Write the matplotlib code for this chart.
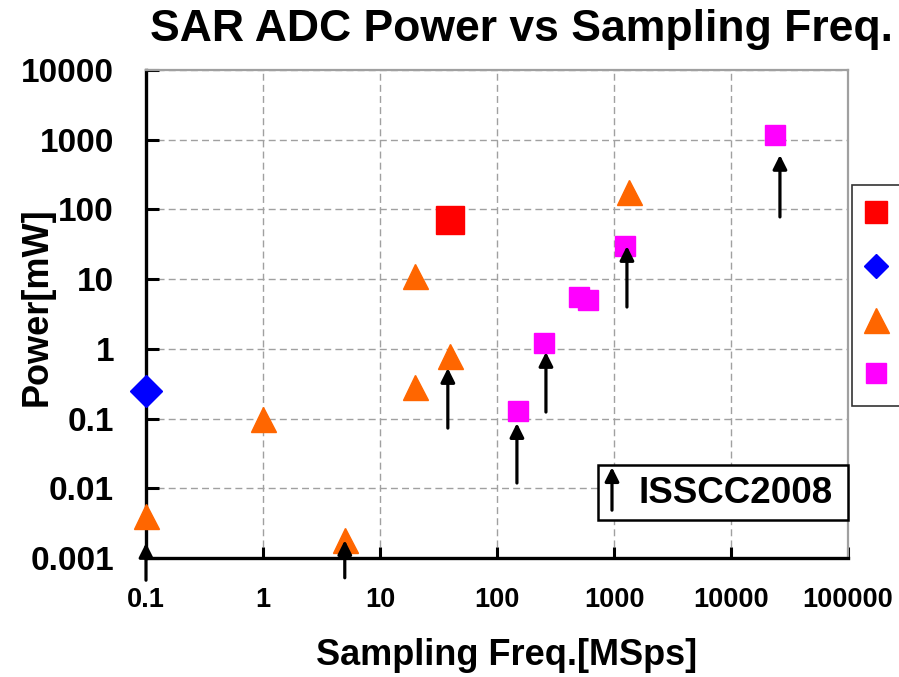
import matplotlib
matplotlib.use("Agg")
import matplotlib.pyplot as plt
from matplotlib.patches import Rectangle, FancyArrowPatch
from matplotlib.lines import Line2D
from matplotlib.ticker import FixedLocator, FixedFormatter, NullLocator

plt.rcParams['font.family'] = ['Liberation Sans', 'DejaVu Sans']
plt.rcParams['font.weight'] = 'bold'

# ---- data ----
red_x = [40]
red_y = [70]
blue_x = [0.1]
blue_y = [0.25]
orange_x = [0.1, 1, 5, 20, 20, 40, 1350]
orange_y = [0.004, 0.1, 0.0018, 11, 0.28, 0.8, 180]
magenta_x = [150, 250, 500, 600, 1250, 24000]
magenta_y = [0.13, 1.2, 5.5, 5.0, 30, 1150]

# ISSCC2008 arrows (x, tail y, tip y)
arrow_x = [0.1, 5, 38, 148, 262, 1290, 26200]
arrow_tail = [0.00048, 0.00052, 0.073, 0.0119, 0.124, 3.98, 78]
arrow_tip = [0.00164, 0.0018, 0.53, 0.086, 0.90, 29.8, 604]

xticks = [0.1, 1, 10, 100, 1000, 10000, 100000]
xtick_labels = ['0.1', '1', '10', '100', '1000', '10000', '100000']
yticks = [0.001, 0.01, 0.1, 1, 10, 100, 1000, 10000]
ytick_labels = ['0.001', '0.01', '0.1', '1', '10', '100', '1000', '10000']

title = 'SAR ADC Power vs Sampling Freq.'
xlabel = 'Sampling Freq.[MSps]'
ylabel = 'Power[mW]'
note = 'ISSCC2008'

RED, BLUE, ORANGE, MAGENTA = '#FF0000', '#0000FF', '#FF6600', '#FF00FF'

fig = plt.figure(figsize=(8.99, 6.77), dpi=100)
L, R, B, T = 146/899, 848/899, 1-558/677, 1-70/677
ax = fig.add_axes([L, B, R-L, T-B])
ax.set_xscale('log')
ax.set_yscale('log')
ax.set_xlim(0.1, 100000)
ax.set_ylim(0.001, 10000)

ax.xaxis.set_major_locator(FixedLocator(xticks))
ax.xaxis.set_major_formatter(FixedFormatter(xtick_labels))
ax.xaxis.set_minor_locator(NullLocator())
ax.yaxis.set_major_locator(FixedLocator(yticks))
ax.yaxis.set_major_formatter(FixedFormatter(ytick_labels))
ax.yaxis.set_minor_locator(NullLocator())

ax.grid(True, which='major', color='#A0A0A0', linestyle=(0, (5, 3)), linewidth=1.0)
ax.set_axisbelow(True)

for s in ['left', 'bottom']:
    ax.spines[s].set_linewidth(2.4)
    ax.spines[s].set_color('black')
for s in ['top', 'right']:
    ax.spines[s].set_linewidth(1.6)
    ax.spines[s].set_color('#A0A0A0')

ax.tick_params(axis='y', direction='in', length=9, width=2.2, pad=23,
               labelsize=24, right=False)
ax.tick_params(axis='x', direction='in', length=8, width=2.2, pad=21,
               labelsize=19.5, top=False)
for lab in ax.get_xticklabels() + ax.get_yticklabels():
    lab.set_fontweight('bold')

ax.plot(red_x, red_y, 's', color=RED, markersize=19.5, linestyle='none', clip_on=False, zorder=3)
ax.plot(blue_x, blue_y, 'D', color=BLUE, markersize=16.5, linestyle='none', clip_on=False, zorder=3)
ax.plot(orange_x, orange_y, '^', color=ORANGE, markersize=18, linestyle='none', clip_on=False, zorder=3)
ax.plot(magenta_x, magenta_y, 's', color=MAGENTA, markersize=15, linestyle='none', clip_on=False, zorder=3)

for x, y0, y1 in zip(arrow_x, arrow_tail, arrow_tip):
    arr = FancyArrowPatch((x, y0), (x, y1), arrowstyle='-|>', mutation_scale=21,
                          lw=2.3, color='black', shrinkA=0, shrinkB=0,
                          clip_on=False, zorder=5)
    ax.add_patch(arr)

# ISSCC2008 note box
ax.add_patch(Rectangle((0.6439, 0.0779), 0.356, 0.1127, transform=ax.transAxes,
                       facecolor='white', edgecolor='black', lw=1.8, zorder=6, clip_on=False))
ax.add_patch(FancyArrowPatch((0.6638, 0.098), (0.6638, 0.186), transform=ax.transAxes,
                             arrowstyle='-|>', mutation_scale=21, lw=2.3, color='black',
                             shrinkA=0, shrinkB=0, zorder=7, clip_on=False))
ax.text(0.7009, 0.133, note, transform=ax.transAxes, ha='left', va='center',
        fontsize=26.5, fontweight='bold', zorder=7)

# legend (labels cut off at figure edge in reference)
handles = [
    Line2D([], [], marker='s', color=RED, markersize=16.5, linestyle='none'),
    Line2D([], [], marker='D', color=BLUE, markersize=12.5, linestyle='none'),
    Line2D([], [], marker='^', color=ORANGE, markersize=18, linestyle='none'),
    Line2D([], [], marker='s', color=MAGENTA, markersize=15, linestyle='none'),
]
leg = ax.legend(handles, ['      '] * 4, loc='upper left', bbox_to_anchor=(1.006, 0.764),
                borderaxespad=0, fontsize=20, labelspacing=1.0, borderpad=0.6,
                handlelength=0.5, handletextpad=1.0, frameon=True, fancybox=False)
leg.get_frame().set_edgecolor('black')
leg.get_frame().set_linewidth(1.2)

ax.set_xlabel(xlabel, fontsize=26, fontweight='bold')
ax.set_ylabel(ylabel, fontsize=26, fontweight='bold')
ax.xaxis.set_label_coords(0.513, -0.199)
ax.yaxis.set_label_coords(-0.155, 0.514)
ax.xaxis.label.set_va('center')
ax.yaxis.label.set_va('center')

fig.text(522/899, 1-30/677, title, ha='center', va='center', fontsize=32, fontweight='bold')

fig.savefig('out.png', dpi=100)
